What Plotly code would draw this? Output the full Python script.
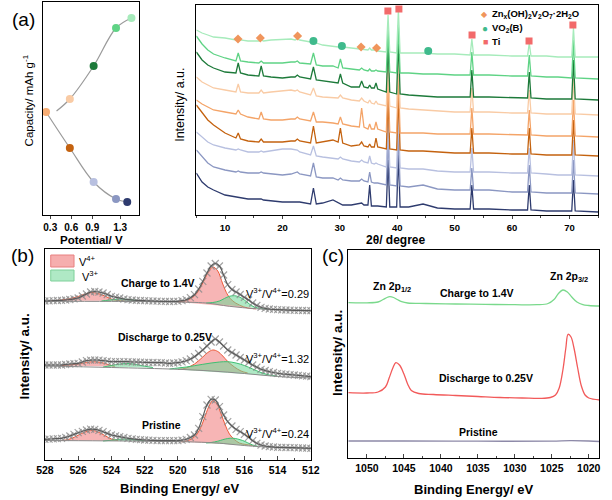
import plotly.graph_objects as go

FONT = "Liberation Sans"
W, H = 612, 500

# ---------------- (a) left: capacity vs potential ----------------
discharge_potential = [0.24, 0.58, 0.92, 1.24, 1.40]
discharge_capacity = [103, 67, 33, 16, 13]
discharge_colors = ["#f7ad74", "#c4620f", "#b8c0e0", "#8b97c2", "#2e3b6e"]
charge_line_potential = [0.39, 0.58, 0.92, 1.24, 1.46]
charge_line_capacity = [104, 116, 149, 187, 197]
charge_colors = ["#f9cba5", "#1d7a3a", "#5fd385", "#a6ebbb"]
a_tick_vals = [0.3, 0.6, 0.9, 1.3]

# ---------------- (a) right: XRD ----------------
two_theta = [5, 6, 7, 8, 10, 11.9, 12.3, 12.7, 14, 15.9, 16.3, 16.7, 18, 20, 21.5,
             22.2, 22.6, 23.0, 24.9, 25.4, 25.9, 27, 28.8, 29.7, 30.1, 30.5, 32,
             33.4, 33.8, 34.2, 34.9, 35.2, 35.5, 36.0, 36.3, 36.6, 38.1, 38.4, 38.7,
             39.9, 40.2, 40.5, 42, 44.5, 47, 50, 52.7, 53.0, 53.3, 56, 60, 62.7, 63.0,
             63.3, 66, 68, 70.4, 70.7, 71.0, 75]
xrd_light_green = [185, 182, 180, 178, 177, 175, 177, 175, 174, 174, 175, 174, 175, 176, 176,
                   175, 176, 175, 173, 174, 172, 170, 169, 168, 169, 168, 167, 166, 166, 166,
                   165, 167, 165, 165, 165, 164, 163, 200, 163, 162, 205, 162, 162, 162, 161,
                   161, 160, 176, 160, 160, 159, 159, 172, 159, 159, 158, 158, 187, 158, 158]
xrd_green = [179, 171, 165, 161, 157, 154, 162, 154, 153, 152, 154, 152, 152, 152, 153,
             153, 154, 152, 151, 162, 150, 149, 149, 147, 156, 147, 146, 145, 147, 145,
             144, 146, 144, 144, 145, 144, 143, 185, 143, 142, 190, 142, 142, 141, 141,
             140, 140, 163, 140, 140, 139, 139, 160, 139, 138, 138, 137, 175, 137, 136]
xrd_dark_green = [163, 155, 150, 147, 143, 142, 152, 142, 140, 139, 149, 139, 138, 137, 138,
                  138, 140, 138, 136, 148, 135, 134, 133, 132, 141, 132, 128, 128, 134, 128,
                  127, 130, 127, 127, 132, 126, 123, 170, 123, 121, 175, 121, 120, 119, 118,
                  118, 118, 145, 118, 118, 117, 117, 143, 117, 116, 116, 116, 155, 116, 115]
xrd_peach = [138, 133, 130, 127, 125, 123, 131, 123, 122, 122, 125, 122, 123, 124, 125,
             124, 125, 123, 120, 127, 119, 118, 117, 117, 120, 117, 115, 114, 117, 114,
             112, 115, 112, 111, 114, 111, 109, 155, 109, 107, 160, 107, 106, 105, 104,
             103, 103, 127, 103, 103, 102, 102, 125, 102, 101, 101, 101, 137, 101, 100]
xrd_orange = [115, 111, 108, 105, 103, 101, 105, 101, 98, 96, 103, 96, 95, 95, 96,
              96, 98, 96, 94, 103, 93, 93, 92, 91, 98, 91, 89, 88, 107, 88,
              86, 91, 86, 86, 93, 86, 83, 135, 83, 82, 140, 82, 82, 82, 81,
              81, 81, 107, 81, 81, 80, 80, 105, 80, 79, 79, 79, 115, 79, 78]
xrd_dark_orange = [110, 102, 95, 90, 82, 77, 82, 76, 74, 73, 76, 73, 73, 73, 74,
                   74, 76, 74, 72, 89, 72, 73, 75, 73, 87, 72, 69, 70, 73, 69,
                   68, 71, 68, 68, 77, 68, 66, 115, 66, 65, 120, 65, 64, 64, 63,
                   62, 62, 87, 62, 62, 61, 61, 87, 61, 60, 60, 60, 95, 60, 59]
xrd_lavender = [83, 78, 73, 70, 67, 65, 66, 65, 63, 63, 64, 63, 64, 66, 66,
                65, 65, 63, 60, 69, 59, 58, 57, 56, 58, 56, 54, 53, 55, 53,
                52, 59, 52, 51, 52, 51, 48, 95, 48, 47, 100, 47, 46, 46, 44,
                43, 43, 67, 43, 43, 42, 42, 67, 42, 41, 40, 40, 75, 40, 39]
xrd_blue_grey = [65, 58, 52, 48, 45, 43, 44, 43, 42, 42, 43, 42, 41, 40, 41,
                 42, 43, 41, 39, 52, 38, 37, 37, 35, 37, 35, 34, 34, 36, 34,
                 33, 43, 33, 32, 32, 32, 30, 75, 30, 29, 80, 29, 28, 30, 26,
                 25, 25, 47, 25, 25, 23, 23, 50, 23, 22, 22, 22, 55, 22, 21]
xrd_navy = [42, 33, 28, 25, 20, 18, 18, 17, 16, 16, 16, 15, 14, 13, 13,
            13, 13, 13, 11, 27, 11, 12, 15, 12, 11, 10, 10, 11, 12, 10,
            10, 30, 9, 9, 9, 9, 8, 55, 8, 8, 60, 8, 8, 11, 7,
            6, 6, 30, 6, 6, 5, 5, 30, 5, 4, 4, 4, 35, 4, 3]
xrd_series = [xrd_navy, xrd_blue_grey, xrd_lavender, xrd_dark_orange, xrd_orange,
              xrd_peach, xrd_dark_green, xrd_green, xrd_light_green]
xrd_colors = ["#2e3b6e", "#8b97c2", "#b8c0e0", "#c4620f", "#f4a468",
              "#f9cba5", "#1d7a3a", "#5fd385", "#a6ebbb"]
zvo_theta = [12.26, 16.15, 22.64, 33.7, 36.4]
zvo_height = [176, 177, 179, 168, 167]
vo2_theta = [25.4, 30.36, 45.4]
vo2_height = [174, 169, 164]
ti_theta = [38.37, 40.29, 53.03, 62.96, 70.6]
ti_height = [204, 206, 180, 174, 190]
xrd_ticks = [10, 20, 30, 40, 50, 60, 70]

# ---------------- (b) V 2p XPS ----------------
b_energy = [528, 527.75, 527.5, 527.25, 527, 526.75, 526.5, 526.25, 526, 525.75, 525.5,
            525.25, 525, 524.75, 524.5, 524.25, 524, 523.75, 523.5, 523.25, 523, 522.75,
            522.5, 522.25, 522, 521.75, 521.5, 521.25, 521, 520.75, 520.5, 520.25, 520,
            519.75, 519.5, 519.25, 519, 518.75, 518.5, 518.25, 518, 517.75, 517.5, 517.25,
            517, 516.75, 516.5, 516.25, 516, 515.75, 515.5, 515.25, 515, 514.75, 514.5,
            514.25, 514, 513.75, 513.5, 513.25, 513, 512.75, 512.5, 512.25, 512]
b_charge_data = [159, 159.2, 159.3, 159.5, 159.7, 160, 160.5, 161.2, 162, 164, 166, 168,
                 168.5, 168, 167, 165.5, 163.7, 162.8, 162, 161, 160.3, 160, 159.7, 159.5,
                 159.3, 159.1, 159, 158.8, 158.7, 158.6, 158.5, 158.6, 158.7, 159.3, 160.3,
                 162.3, 165.3, 171, 178.7, 187, 194, 196.5, 194, 185, 175.3, 170.5, 168,
                 165.5, 162.7, 160, 157, 154.5, 152.7, 151.7, 151, 150.6, 150.3, 150.1, 150,
                 149.8, 149.7, 149.6, 149.5, 149.4, 149.3]
b_discharge_data = [95, 95, 95, 95, 95, 95.5, 96, 96.3, 96.7, 98, 99.3, 99.8,
                    100, 99.8, 99.3, 98.8, 98.3, 98.3, 98.3, 98.3, 98.3, 98, 98, 97.8,
                    97.7, 97.5, 97.5, 97.4, 97.3, 97, 96.7, 97, 97.3, 98.2, 99.3,
                    101, 103.3, 106.5, 110, 114, 118, 121, 118, 114, 110, 107.5, 105,
                    102.5, 100, 97.5, 95, 92.8, 90.7, 89.5, 88.3, 87.5, 86.7, 86.2, 85.8,
                    85.4, 85, 84.6, 84.2, 83.8, 83.3]
b_pristine_data = [20.7, 20.9, 21.1, 21.4, 21.7, 22.7, 24, 25.6, 27.3, 28.7, 30, 30.9,
                   30.7, 29.7, 28.3, 26.6, 25, 24.1, 23.3, 22.5, 21.7, 21.2, 20.7, 20.3,
                   20, 19.8, 19.6, 19.4, 19.3, 19.3, 19.3, 19.3, 19.3, 19.8, 20.7,
                   22.5, 25, 31.7, 43.3, 55, 60.7, 60, 53.3, 45, 38.3, 34, 30.7,
                   28.3, 25.7, 22.7, 19.3, 16.7, 15, 14, 13.3, 13, 12.7, 12.6, 12.5,
                   12.4, 12.3, 12.1, 12, 11.8, 11.7]

b_charge_base_E = [528, 524, 521, 520.2, 518.3, 516.9, 515.35, 514, 512]
b_charge_base_I = [158.7, 158.6, 158.3, 158, 157, 153.7, 151.3, 150.3, 149.3]
b_discharge_base_E = [528, 524, 520, 518, 516, 514, 512]
b_discharge_base_I = [94, 92.5, 90.7, 89, 86.5, 83.5, 82]
b_pristine_base_E = [528, 522, 519, 517.5, 516.5, 515.5, 514, 512]
b_pristine_base_I = [19.5, 18.8, 18, 16.8, 15.2, 13.8, 12.5, 11.7]

# fitted components (V4+ red, V3+ green)
b_charge_v4a_E = [520.0, 519.5, 519.0, 518.5, 518.2, 517.9, 517.6, 517.3, 517.0, 516.7, 516.3, 515.8, 515.3]
b_charge_v4a_I = [158, 159.5, 164, 177, 187, 193, 189, 176, 165, 159, 155, 152, 151.2]
b_charge_v3a_E = [518.3, 517.9, 517.5, 517.2, 516.9, 516.6, 516.3, 516.0, 515.7, 515.4, 515.0, 514.6]
b_charge_v3a_I = [157, 157.5, 159, 161.5, 163.7, 164.3, 163, 160, 156, 153, 151.5, 150.7]
b_charge_v4b_E = [527.6, 527.0, 526.5, 526.0, 525.6, 525.2, 524.8, 524.4, 524.0, 523.6, 523.2]
b_charge_v4b_I = [159.3, 160, 161.5, 163.5, 166, 167.5, 166.5, 164, 161, 159.5, 159.2]
b_charge_v3b_E = [524.6, 524.2, 523.8, 523.4, 523.0, 522.6, 522.2]
b_charge_v3b_I = [159, 159.8, 160.6, 161, 160.6, 159.8, 159.2]

b_discharge_v4a_E = [520.0, 519.5, 519.0, 518.5, 518.2, 517.9, 517.6, 517.3, 517.0, 516.6, 516.2, 515.8]
b_discharge_v4a_I = [90.5, 92, 96, 103, 107.5, 110, 108.5, 104, 98.5, 93, 89, 87]
b_discharge_v3a_E = [520.5, 520.0, 519.5, 519.0, 518.5, 518.0, 517.5, 517.0, 516.5, 516.0, 515.5, 515.0, 514.5, 514.0]
b_discharge_v3a_I = [91, 92, 93, 94.3, 95.7, 97, 98, 98.3, 97, 94.5, 91, 87.5, 85, 83.8]
b_discharge_v4b_E = [527.0, 526.5, 526.0, 525.5, 525.1, 524.6, 524.2, 523.8]
b_discharge_v4b_I = [94.5, 95, 96, 97.5, 98.3, 97.5, 95.5, 93.5]
b_discharge_v3b_E = [524.5, 524.0, 523.5, 523.0, 522.5, 522.0, 521.5]
b_discharge_v3b_I = [93, 94.5, 96, 96.5, 95.5, 93.8, 92.5]

b_pristine_v4a_E = [519.8, 519.4, 519.0, 518.7, 518.4, 518.15, 517.9, 517.65, 517.4, 517.15, 516.9, 516.6, 516.3, 515.9, 515.5]
b_pristine_v4a_I = [18.2, 19.5, 23, 30, 42, 53, 59.5, 56, 46, 35, 26, 20.5, 17, 15.5, 14.5]
b_pristine_v3a_E = [518.3, 518.0, 517.6, 517.3, 517.0, 516.7, 516.4, 516.1, 515.8, 515.5, 515.2]
b_pristine_v3a_I = [17, 17.5, 18.8, 20.3, 21.5, 21.8, 21, 19.5, 17.2, 15, 13.8]
b_pristine_v4b_E = [527.0, 526.6, 526.2, 525.8, 525.4, 525.1, 524.8, 524.4, 524.0, 523.6]
b_pristine_v4b_I = [19.5, 20.5, 23, 26.5, 29, 29.5, 28, 24.5, 21, 19.3]
b_pristine_v3b_E = [524.5, 524.0, 523.6, 523.2, 522.8, 522.4, 522.0]
b_pristine_v3b_I = [19, 19.8, 20.6, 21, 20.6, 19.8, 19]

b_ticks = [528, 526, 524, 522, 520, 518, 516, 514, 512]

# ---------------- (c) Zn 2p XPS ----------------
c_charge_E = [1052.5, 1050, 1048.5, 1047.8, 1047.3, 1046.9, 1046.4, 1045.9, 1045.3, 1044.5, 1042,
              1038, 1034, 1030, 1027, 1025.5, 1024.7, 1024.1, 1023.5, 1022.9, 1022.3, 1021.6,
              1020.8, 1020, 1018.5]
c_charge_I = [155.3, 155.2, 156, 158.5, 160.5, 161.3, 160.5, 158.5, 156.3, 155, 154.5,
              154, 153.6, 153.3, 153.3, 154.5, 158.5, 164.5, 168, 166, 161, 156,
              153.3, 152.5, 152]
c_discharge_E = [1052.5, 1050, 1048.5, 1047.5, 1047, 1046.5, 1046.1, 1045.6, 1045, 1044.5, 1044,
                 1043, 1041, 1038, 1035, 1032, 1029, 1026.5, 1025.2, 1024.5, 1024, 1023.5,
                 1023.1, 1022.8, 1022.4, 1022, 1021.5, 1021, 1020.5, 1020, 1018.5]
c_discharge_I = [65.3, 65, 66, 71, 80, 90, 95.3, 93, 84, 74, 67.5,
                 64.5, 63.5, 62.5, 61.5, 60.5, 60, 59.6, 60.5, 63, 70, 88,
                 110, 123.7, 121, 110, 90, 72, 63, 60, 58]
c_pristine_E = [1052.5, 1045, 1035, 1025, 1022.5, 1020, 1018.5]
c_pristine_I = [17, 17, 16.8, 16.8, 17.3, 17, 16.5]
c_ticks = [1050, 1045, 1040, 1035, 1030, 1025, 1020]

# ---------------- figure ----------------
fig = go.Figure()


def P(px, py):
    return px / W, 1 - py / H


def line_trace(x, y, color, width, xa, ya, shape="linear"):
    fig.add_trace(go.Scatter(x=x, y=y, mode="lines", xaxis=xa, yaxis=ya,
                             line=dict(color=color, width=width, shape=shape),
                             showlegend=False, hoverinfo="skip"))


# (a) left
line_trace(discharge_potential, discharge_capacity, "#9a9a9a", 1.2, "x", "y", "spline")
line_trace(charge_line_potential, charge_line_capacity, "#9a9a9a", 1.2, "x", "y", "spline")
fig.add_trace(go.Scatter(x=discharge_potential, y=discharge_capacity, mode="markers",
                         marker=dict(color=discharge_colors, size=8, symbol="circle"),
                         xaxis="x", yaxis="y", showlegend=False))
fig.add_trace(go.Scatter(x=charge_line_potential[1:], y=charge_line_capacity[1:], mode="markers",
                         marker=dict(color=charge_colors, size=8, symbol="circle"),
                         xaxis="x", yaxis="y", showlegend=False))

# (a) right XRD
for ser, col in zip(xrd_series, xrd_colors):
    line_trace(two_theta, ser, col, 1.3, "x2", "y2")
fig.add_trace(go.Scatter(x=zvo_theta, y=zvo_height, mode="markers", xaxis="x2", yaxis="y2",
                         marker=dict(symbol="diamond", size=7, color="#f0955c"), showlegend=False))
fig.add_trace(go.Scatter(x=vo2_theta, y=vo2_height, mode="markers", xaxis="x2", yaxis="y2",
                         marker=dict(symbol="circle", size=8, color="#3fba8c"), showlegend=False))
fig.add_trace(go.Scatter(x=ti_theta, y=ti_height, mode="markers", xaxis="x2", yaxis="y2",
                         marker=dict(symbol="square", size=7, color="#f26a6a"), showlegend=False))

# (b)
RED_FILL, RED_LINE = "rgba(240,120,120,0.55)", "#ee5a3a"
GRN_FILL, GRN_LINE = "rgba(110,215,150,0.55)", "#3fbf72"


def comp(E, I, fill, lc):
    fig.add_trace(go.Scatter(x=E, y=I, mode="lines", fill="toself", fillcolor=fill,
                             line=dict(color=lc, width=1, shape="spline"),
                             xaxis="x3", yaxis="y3", showlegend=False, hoverinfo="skip"))


for data, base_E, base_I, comps in [
    (b_charge_data, b_charge_base_E, b_charge_base_I,
     [(b_charge_v4a_E, b_charge_v4a_I, 4), (b_charge_v4b_E, b_charge_v4b_I, 4),
      (b_charge_v3a_E, b_charge_v3a_I, 3), (b_charge_v3b_E, b_charge_v3b_I, 3)]),
    (b_discharge_data, b_discharge_base_E, b_discharge_base_I,
     [(b_discharge_v4a_E, b_discharge_v4a_I, 4), (b_discharge_v4b_E, b_discharge_v4b_I, 4),
      (b_discharge_v3a_E, b_discharge_v3a_I, 3), (b_discharge_v3b_E, b_discharge_v3b_I, 3)]),
    (b_pristine_data, b_pristine_base_E, b_pristine_base_I,
     [(b_pristine_v4a_E, b_pristine_v4a_I, 4), (b_pristine_v4b_E, b_pristine_v4b_I, 4),
      (b_pristine_v3a_E, b_pristine_v3a_I, 3), (b_pristine_v3b_E, b_pristine_v3b_I, 3)]),
]:
    for E, I, kind in comps:
        if kind == 4:
            comp(E, I, RED_FILL, RED_LINE)
        else:
            comp(E, I, GRN_FILL, GRN_LINE)
    line_trace(base_E, base_I, "#8a8a8a", 1, "x3", "y3", "spline")
    fig.add_trace(go.Scatter(x=b_energy, y=data, mode="markers", xaxis="x3", yaxis="y3",
                             marker=dict(symbol="x-thin", size=7,
                                         line=dict(color="rgba(140,140,140,0.8)", width=1.2)),
                             showlegend=False, hoverinfo="skip"))
    line_trace(b_energy, data, "#5a5a5a", 1.2, "x3", "y3", "spline")

# (c)
line_trace(c_pristine_E, c_pristine_I, "#8d89a8", 1.3, "x4", "y4", "spline")
line_trace(c_discharge_E, c_discharge_I, "#f25a5a", 1.3, "x4", "y4", "spline")
line_trace(c_charge_E, c_charge_I, "#7ad98c", 1.3, "x4", "y4", "spline")

# axes
def box(**kw):
    d = dict(showline=True, linecolor="black", linewidth=1.3, mirror=True, showgrid=False,
             zeroline=False)
    d.update(kw)
    return d


tickf = dict(family=FONT, size=10, color="black", weight="bold")
fig.update_layout(
    width=W, height=H, margin=dict(l=0, r=0, t=0, b=0),
    paper_bgcolor="white", plot_bgcolor="white", font=dict(family=FONT, color="black"),
    xaxis=box(domain=[35 / W, 134 / W], range=[0.196, 1.569], tickvals=a_tick_vals,
              ticks="outside", ticklen=3, tickfont=tickf, anchor="y"),
    yaxis=box(domain=[1 - 215 / H, 1 - 2 / H], range=[0, 213], showticklabels=False,
              ticks="", anchor="x"),
    xaxis2=box(domain=[193 / W, 607 / W], range=[5, 75], tickvals=xrd_ticks, ticks="outside",
               ticklen=3, tickfont=dict(family=FONT, size=9.5, color="black", weight="bold"),
               minor=dict(dtick=5, ticks="outside", ticklen=2), anchor="y2"),
    yaxis2=box(domain=[1 - 215 / H, 1 - 5 / H], range=[0, 210], showticklabels=False,
               ticks="", anchor="x2"),
    xaxis3=box(domain=[37 / W, 311 / W], range=[528, 512], tickvals=b_ticks, ticks="inside",
               ticklen=4, tickfont=dict(family=FONT, size=10.5, color="black", weight="bold"),
               minor=dict(dtick=1, ticks="inside", ticklen=2), anchor="y3"),
    yaxis3=box(domain=[1 - 460 / H, 1 - 249 / H], range=[0, 211], showticklabels=False,
               ticks="", anchor="x3"),
    xaxis4=box(domain=[349 / W, 608 / W], range=[1052.6, 1018.6], tickvals=c_ticks,
               ticks="inside", ticklen=4,
               tickfont=dict(family=FONT, size=10.5, color="black", weight="bold"),
               minor=dict(dtick=2.5, ticks="inside", ticklen=2), anchor="y4"),
    yaxis4=box(domain=[1 - 458 / H, 1 - 250 / H], range=[0, 208], showticklabels=False,
               ticks="", anchor="x4"),
)

ann = []


def text(px, py, s, size=10.5, bold=False, xanchor="center", angle=0, color="black"):
    x, y = P(px, py)
    ann.append(dict(x=x, y=y, xref="paper", yref="paper", text=s, showarrow=False,
                    xanchor=xanchor, yanchor="middle", textangle=angle,
                    font=dict(family=FONT, size=size, color=color,
                              weight="bold" if bold else "normal")))


# panel labels
text(15, 19, "(a)", 19)
text(14, 255, "(b)", 19)
text(334, 255, "(c)", 19)
# axis titles
text(85, 240, "Potential/ V", 11.5, True)
text(399, 240, "2θ/ degree", 12, True)
text(176, 488, "Binding Energy/ eV", 13, True)
text(479, 489, "Binding Energy/ eV", 13, True)
text(20, 100, "Capacity/ mAh g<sup>-1</sup>", 11.5, False, angle=-90)
text(176, 105, "Intensity/ a.u.", 12.5, False, angle=-90)
text(15, 357, "Intensity/ a.u.", 13.5, True, angle=-90)
text(338, 353, "Intensity/ a.u.", 13.5, True, angle=-90)
# XRD legend
text(490, 14, "◆", 8, color="#f0955c")
text(496, 14, "Zn<sub>x</sub>(OH)<sub>2</sub>V<sub>2</sub>O<sub>7</sub>·2H<sub>2</sub>O", 9.5, True, "left")
text(490, 28, "●", 10, color="#3fba8c")
text(496, 28, "VO<sub>2</sub>(B)", 9.5, True, "left")
text(491, 42, "■", 9, color="#f26a6a")
text(496, 42, "Ti", 9.5, True, "left")
# panel b texts
text(153, 283, "Charge to 1.4V", 10.5, True)
text(311, 293, "V<sup>3+</sup>/V<sup>4+</sup>=0.29", 11, False, "right")
text(161, 337, "Discharge to 0.25V", 10.5, True)
text(311, 358, "V<sup>3+</sup>/V<sup>4+</sup>=1.32", 11, False, "right")
text(157, 425, "Pristine", 10.5, True)
text(311, 433, "V<sup>3+</sup>/V<sup>4+</sup>=0.24", 11, False, "right")
text(70, 261, "V<sup>4+</sup>", 11, False, "left")
text(73, 276, "V<sup>3+</sup>", 11, False, "left")
# panel c texts
text(395, 287, "Zn 2p<sub>1/2</sub>", 10.5, True)
text(577, 277, "Zn 2p<sub>3/2</sub>", 10.5, True)
text(482, 293, "Charge to 1.4V", 10.5, True)
text(491, 378, "Discharge to 0.25V", 10.5, True)
text(484, 432, "Pristine", 10.5, True)

fig.update_layout(annotations=ann)

# legend swatches for panel (b)
shapes = []
for (y0, y1, fill, lc) in [(255, 267, "rgba(240,120,120,0.6)", "#e88080"),
                           (270, 281, "rgba(110,215,150,0.55)", "#7fd09a")]:
    x0p, y0p = P(43, y1)
    x1p, y1p = P(67, y0)
    shapes.append(dict(type="rect", xref="paper", yref="paper", x0=x0p, x1=x1p, y0=y0p, y1=y1p,
                       fillcolor=fill, line=dict(color=lc, width=1)))
fig.update_layout(shapes=shapes)

fig.write_html("out.html", config={"displayModeBar": False},
               post_script="document.body.style.margin='0';document.body.style.overflow='hidden';")
